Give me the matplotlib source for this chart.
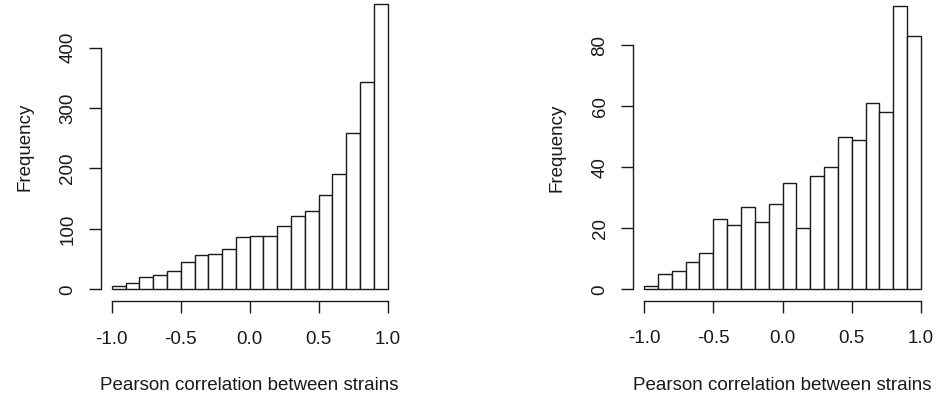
import numpy as np
import matplotlib.pyplot as plt

plt.rcParams['font.family'] = 'Liberation Sans'

# bin edges shared by both histograms (width 0.1 from -1 to 1)
edges = np.round(np.arange(-1.0, 1.01, 0.1), 2)

# counts
left_counts = [6, 10, 21, 23, 31, 45, 56, 58, 66, 86,
               88, 88, 104, 121, 129, 156, 191, 258, 343, 473]
right_counts = [1, 5, 6, 9, 12, 23, 21, 27, 22, 28,
                35, 20, 37, 40, 50, 49, 61, 58, 93, 83]

left_yticks = [0, 100, 200, 300, 400]
right_yticks = [0, 20, 40, 60, 80]
xticks = [-1.0, -0.5, 0.0, 0.5, 1.0]
xticklabels = ["-1.0", "-0.5", "0.0", "0.5", "1.0"]

W, H = 938, 398
fig = plt.figure(figsize=(W / 100, H / 100), dpi=100)

ink = "#1a1a1a"


def panel(rect, counts, yticks):
    ax = fig.add_axes(rect)
    ax.bar(edges[:-1], counts, width=0.1, align="edge",
           facecolor="white", edgecolor=ink, linewidth=1.0)
    top = max(counts)
    ax.set_xlim(-1.08, 1.08)
    ax.set_ylim(-0.04 * top, 1.04 * top)
    ax.spines["top"].set_visible(False)
    ax.spines["right"].set_visible(False)
    ax.spines["left"].set_bounds(yticks[0], yticks[-1])
    ax.spines["bottom"].set_bounds(-1, 1)
    for s in ("left", "bottom"):
        ax.spines[s].set_color(ink)
        ax.spines[s].set_linewidth(1.0)
    ax.set_xticks(xticks)
    ax.set_xticklabels(xticklabels)
    ax.set_yticks(yticks)
    ax.set_yticklabels([str(v) for v in yticks], rotation=90, va="center")
    ax.tick_params(length=8.5, width=1.0, color=ink, labelcolor=ink,
                   labelsize=13.5)
    ax.tick_params(axis="x", pad=13)
    ax.tick_params(axis="y", pad=9)
    ax.set_xlabel("Pearson correlation between strains", fontsize=13.5,
                  color=ink, labelpad=21)
    ax.set_ylabel("Frequency", fontsize=13.5, color=ink, labelpad=19)
    ax.patch.set_alpha(0)
    return ax


panel([100.7 / W, (H - 300.7) / H, 298 / W, 308.5 / H],
      left_counts, left_yticks)
panel([632.9 / W, (H - 300.6) / H, 299.2 / W, 306.3 / H],
      right_counts, right_yticks)

fig.savefig("out.png", dpi=100, facecolor="white")
